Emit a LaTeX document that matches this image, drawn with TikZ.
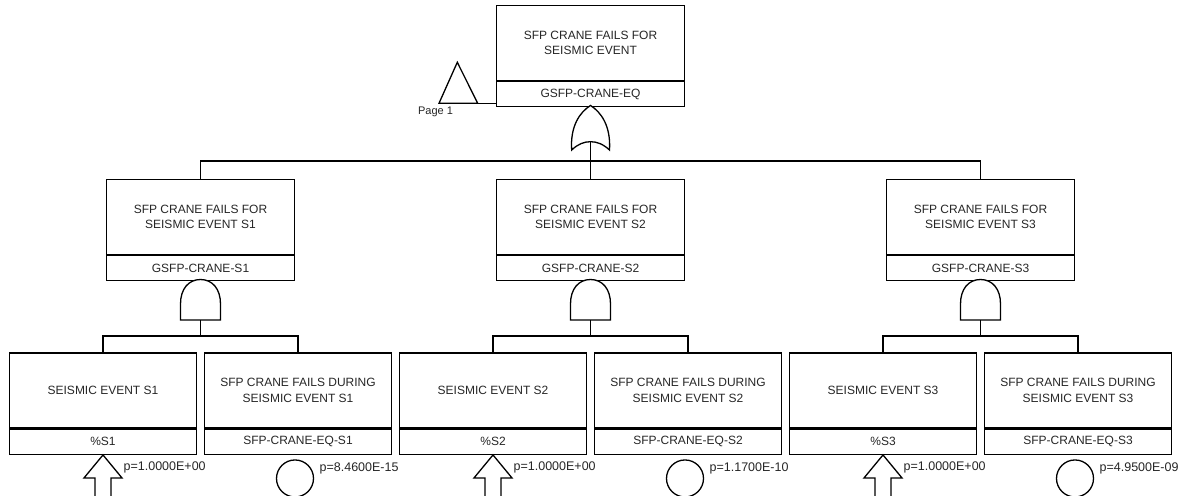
\documentclass[tikz,border=0pt]{standalone}
\usepackage{fontspec}
\setmainfont{Liberation Sans}
\usetikzlibrary{calc}
\begin{document}
\begin{tikzpicture}[x=1pt,y=-1pt, line width=1.3pt, line join=miter,
  txt/.style={text=black!85, font=\fontsize{12}{15.5}\selectfont},
  titlebox/.style={draw, txt, minimum width=187.5pt, minimum height=75pt, inner sep=0pt, align=center},
  idbox/.style={draw, txt, minimum width=187.5pt, minimum height=25pt, inner sep=0pt, anchor=north},
  gate/.style={draw, fill=white},
  plab/.style={text=black!85, font=\fontsize{12.5}{14}\selectfont, anchor=west, inner sep=0pt}]
\useasboundingbox (0,0) rectangle (1188,495);

% top event
\node[titlebox] (T) at (590.5,43) {SFP CRANE FAILS FOR\\SEISMIC EVENT};
\node[idbox] (Tid) at (T.south) {GSFP-CRANE-EQ};

% transfer triangle
\coordinate (tri) at (477.7,103.3);
\draw (tri) -- (439,103.3) -- (457.3,62.3) -- cycle;
\draw (tri) -- (tri -| Tid.west);
\node[text=black!85, font=\fontsize{11}{13}\selectfont, inner sep=0pt] (pg) at (435.5,111.7) {Page 1};

% OR gate
\draw[gate] (571.7,150) .. controls (570,126) and (580,112) .. (590.5,105.5)
  .. controls (601,112) and (611,126) .. (609.5,150)
  .. controls (603,144) and (597,141.7) .. (590.5,141.7)
  .. controls (584,141.7) and (578,144) .. (571.7,150) -- cycle;
\coordinate (g0) at (590.5,141.7);
\coordinate (bus0) at (590.5,161);
\draw (g0) -- (bus0);

\foreach \i/\c/\pb in {1/200.5/8.4600E-15, 2/590.5/1.1700E-10, 3/980.5/4.9500E-09}{
  \pgfmathsetmacro{\ca}{\c-97.5}
  \pgfmathsetmacro{\cb}{\c+97.5}
  \node[titlebox] (G\i) at (\c,217) {SFP CRANE FAILS FOR\\SEISMIC EVENT S\i};
  \node[idbox] (G\i id) at (G\i.south) {GSFP-CRANE-S\i};
  % AND gate
  \draw[gate] (\c-20,320) -- (\c-20,304) .. controls (\c-20,289) and (\c-12,279.5) .. (\c,279.5)
    .. controls (\c+12,279.5) and (\c+20,289) .. (\c+20,304) -- (\c+20,320) -- cycle;
  \coordinate (g\i) at (\c,320);
  \coordinate (bus\i) at (\c,336);
  \draw (g\i) -- (bus\i);
  % children
  \node[titlebox] (A\i) at (\ca,390.5) {SEISMIC EVENT S\i};
  \node[idbox] (A\i id) at (A\i.south) {\%S\i};
  \node[titlebox] (B\i) at (\cb,390.5) {SFP CRANE FAILS DURING\\SEISMIC EVENT S\i};
  \node[idbox] (B\i id) at (B\i.south) {SFP-CRANE-EQ-S\i};
  \draw (A\i.north) |- (bus\i) -| (B\i.north);
  % house event arrow
  \draw[gate] (A\i id.south) -- ++(19,23) -- ++(-11,0) -- ++(0,30) -- ++(-16,0) -- ++(0,-30) -- ++(-11,0) -- cycle;
  \node[plab] (pa\i) at ($(A\i id.south)+(20,12.5)$) {p=1.0000E+00};
  % basic event circle
  \node[draw, circle, minimum size=37pt, inner sep=0pt] (ev\i) at ($(B\i id.south)+(-3,23.5)$) {};
  \node[plab] (pb\i) at ($(B\i id.south)+(21,13)$) {p=\pb};
}
\draw (G1.north) |- (bus0) -| (G3.north);
\draw (G2.north) -- (bus0);
\end{tikzpicture}
\end{document}
